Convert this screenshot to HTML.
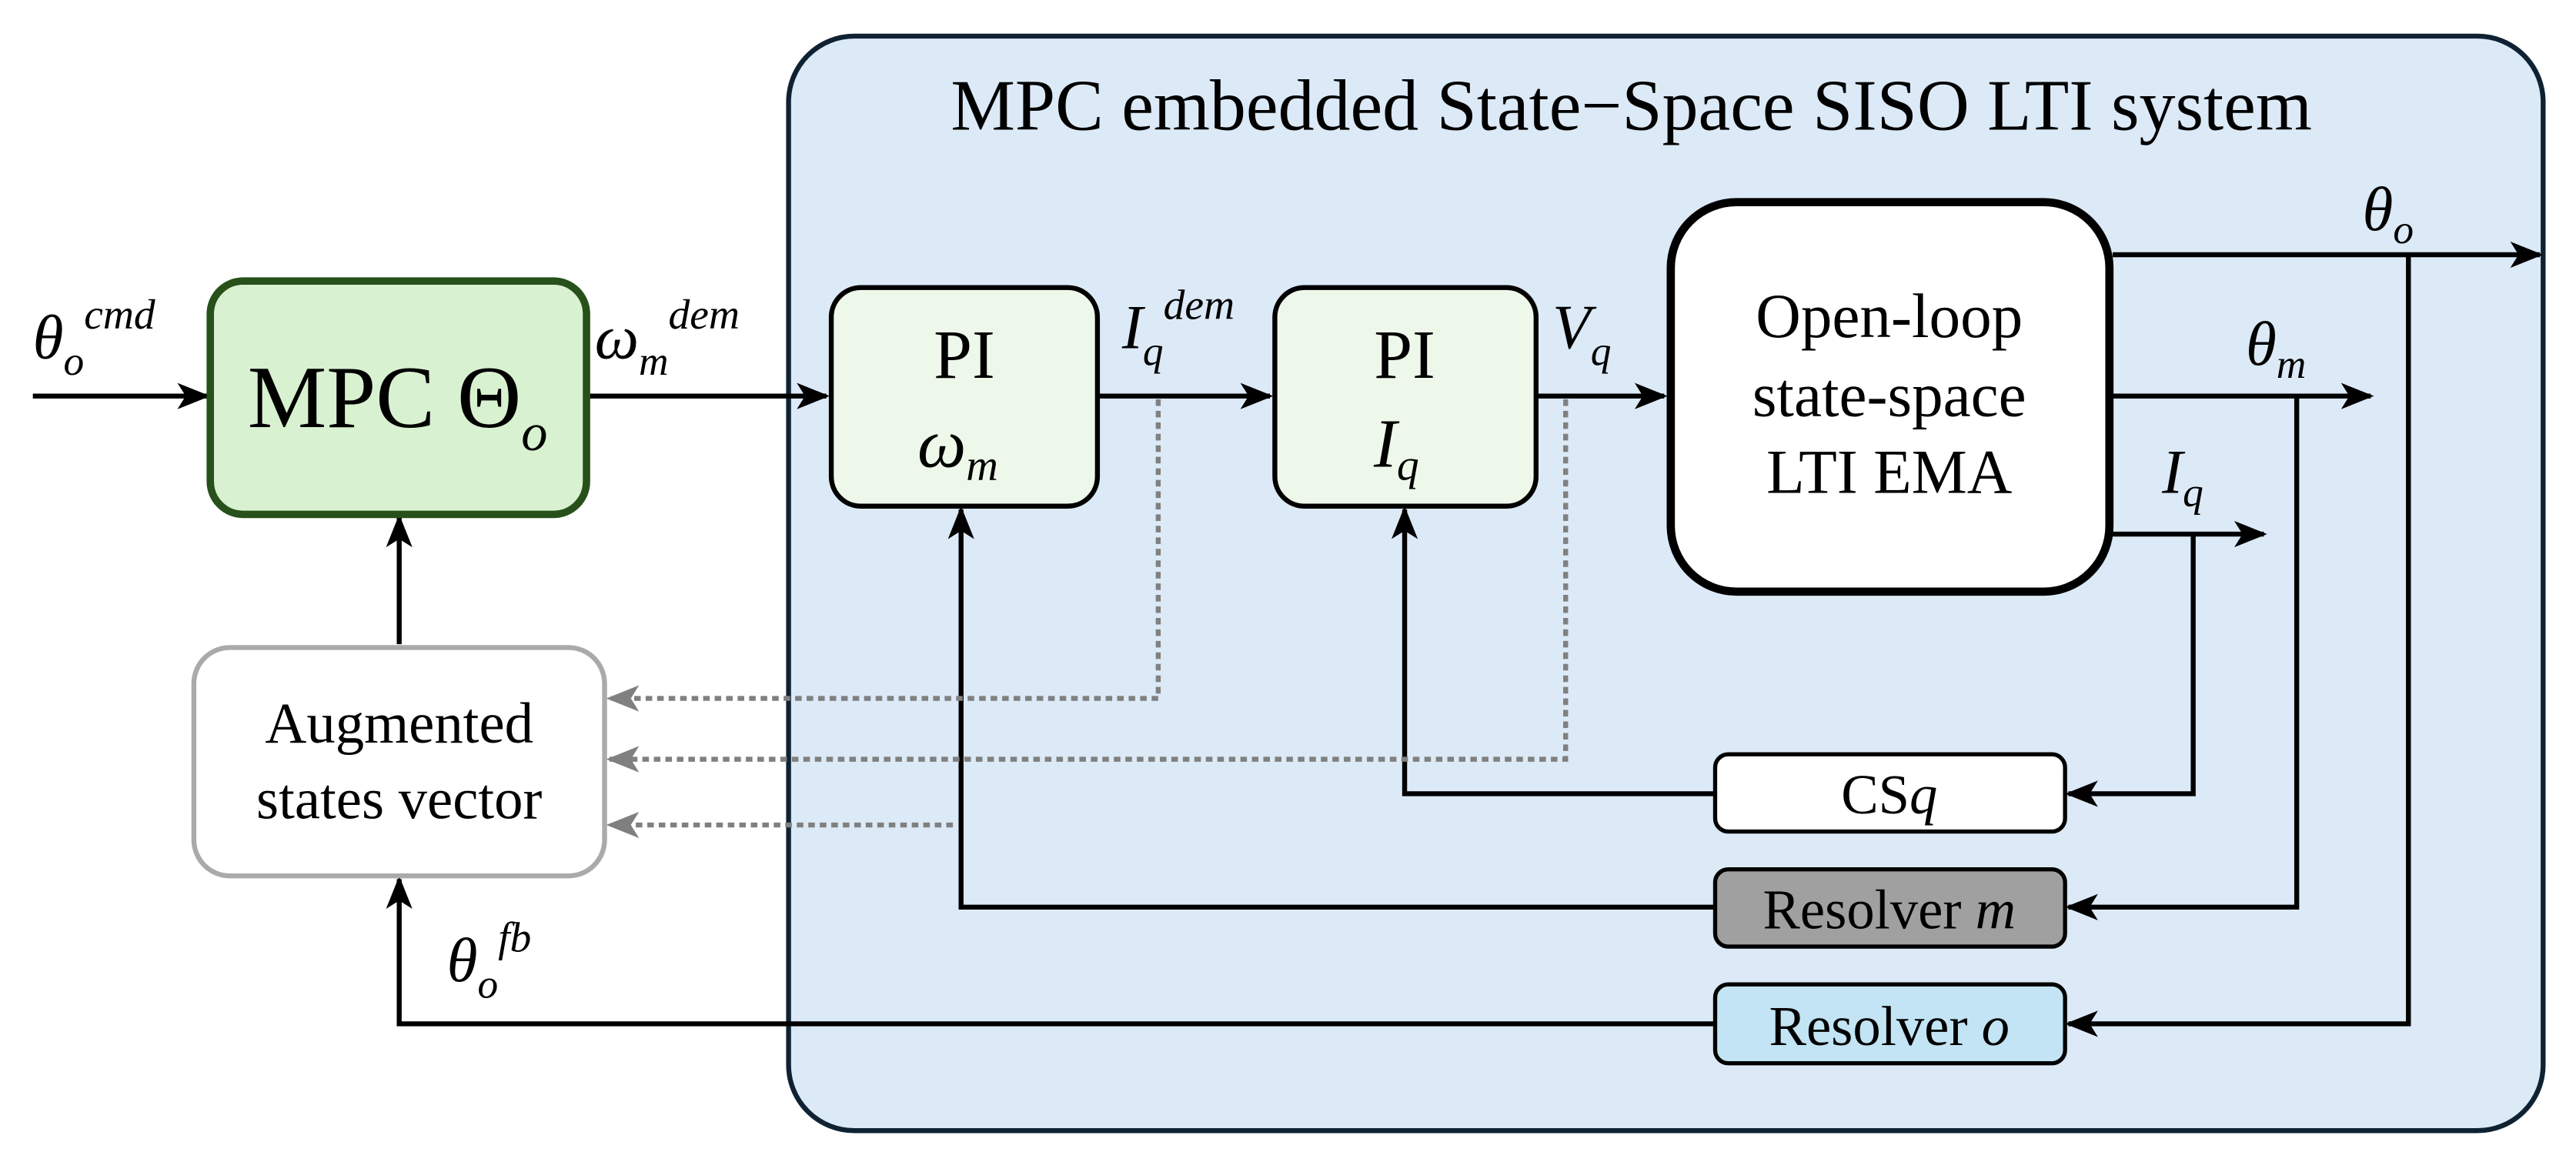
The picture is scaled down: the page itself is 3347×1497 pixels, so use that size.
<!DOCTYPE html>
<html><head><meta charset="utf-8"><style>
html,body{margin:0;padding:0;background:#fff}
svg{display:block}
svg text{font-family:"Times New Roman","Liberation Serif","DejaVu Serif",serif;fill:#000}
.i{font-style:italic}
</style></head><body>
<svg width="3347" height="1497" viewBox="0 0 1568 701" preserveAspectRatio="none" xmlns="http://www.w3.org/2000/svg" font-family="Times New Roman, Liberation Serif, DejaVu Serif, serif">
<defs>
<marker id="a" viewBox="0 0 20 16" refX="18" refY="8" markerWidth="20" markerHeight="16" markerUnits="userSpaceOnUse" orient="auto"><path d="M0,0 L20,8 L0,16 L5,8 Z" fill="#000"/></marker>
<marker id="g" viewBox="0 0 20 16" refX="18" refY="8" markerWidth="20" markerHeight="16" markerUnits="userSpaceOnUse" orient="auto"><path d="M0,0 L20,8 L0,16 L5,8 Z" fill="#808080"/></marker>
</defs>
<rect x="480" y="22" width="1068" height="666" rx="40" fill="#dce9f6" stroke="#0f2233" stroke-width="3"/>
<text x="993" y="79" font-size="44" text-anchor="middle">MPC embedded State−Space SISO LTI system</text>

<g stroke="#000" stroke-width="3" fill="none">
<line x1="20" y1="241" x2="126" y2="241" marker-end="url(#a)"/>
<line x1="358" y1="241" x2="503" y2="241" marker-end="url(#a)"/>
<line x1="669" y1="241" x2="773" y2="241" marker-end="url(#a)"/>
<line x1="936" y1="241" x2="1013" y2="241" marker-end="url(#a)"/>
<line x1="1286" y1="155" x2="1546" y2="155" marker-end="url(#a)"/>
<line x1="1286" y1="241" x2="1443" y2="241" marker-end="url(#a)"/>
<line x1="1286" y1="325" x2="1378" y2="325" marker-end="url(#a)"/>
<polyline points="1335,325 1335,483 1259,483" marker-end="url(#a)"/>
<polyline points="1398,241 1398,552 1259,552" marker-end="url(#a)"/>
<polyline points="1466,155 1466,623 1259,623" marker-end="url(#a)"/>
<polyline points="1043,483 855,483 855,310" marker-end="url(#a)"/>
<polyline points="1043,552 585,552 585,310" marker-end="url(#a)"/>
<polyline points="1043,623 243,623 243,535" marker-end="url(#a)"/>
<line x1="243" y1="392" x2="243" y2="315" marker-end="url(#a)"/>
</g>
<g stroke="#808080" stroke-width="3" fill="none" stroke-dasharray="4,3">
<polyline points="705,243 705,425 371,425" marker-end="url(#g)"/>
<polyline points="953,243 953,462 371,462" marker-end="url(#g)"/>
<line x1="580" y1="502" x2="371" y2="502" marker-end="url(#g)"/>
</g>

<rect x="128" y="171" width="229" height="142" rx="20" fill="#d8f1d0" stroke="#27501a" stroke-width="4.5"/>
<text x="242" y="260" font-size="54" text-anchor="middle">MPC Θ<tspan class="i" font-size="32" dy="14">o</tspan></text>

<rect x="506" y="175" width="162" height="133" rx="18" fill="#eef8ea" stroke="#000" stroke-width="3"/>
<text x="587" y="230" font-size="42" text-anchor="middle">PI</text>
<text x="583" y="284" font-size="42" text-anchor="middle" class="i">ω<tspan font-size="27" dy="8">m</tspan></text>

<rect x="776" y="175" width="159" height="133" rx="18" fill="#eef8ea" stroke="#000" stroke-width="3"/>
<text x="855" y="230" font-size="42" text-anchor="middle">PI</text>
<text x="850" y="284" font-size="42" text-anchor="middle" class="i">I<tspan font-size="27" dy="8">q</tspan></text>

<rect x="1017" y="123" width="267" height="237" rx="40" fill="#fff" stroke="#000" stroke-width="5"/>
<text x="1150" y="205" font-size="38" text-anchor="middle">Open-loop</text>
<text x="1150" y="253" font-size="38" text-anchor="middle">state-space</text>
<text x="1150" y="300" font-size="38" text-anchor="middle">LTI EMA</text>

<rect x="118" y="394" width="250" height="139" rx="22" fill="#fff" stroke="#aaa" stroke-width="3"/>
<text x="243" y="452" font-size="35" text-anchor="middle">Augmented</text>
<text x="243" y="498" font-size="35" text-anchor="middle">states vector</text>

<rect x="1044" y="459" width="213" height="47" rx="8" fill="#fff" stroke="#000" stroke-width="2.5"/>
<text x="1150" y="495" font-size="34" text-anchor="middle">CS<tspan class="i">q</tspan></text>
<rect x="1044" y="529" width="213" height="47" rx="8" fill="#a0a0a0" stroke="#000" stroke-width="2.5"/>
<text x="1150" y="565" font-size="34" text-anchor="middle">Resolver <tspan class="i">m</tspan></text>
<rect x="1044" y="599" width="213" height="48" rx="8" fill="#c2e4f4" stroke="#000" stroke-width="2.5"/>
<text x="1150" y="636" font-size="34" text-anchor="middle">Resolver <tspan class="i">o</tspan></text>

<text x="20" y="218" font-size="38" class="i">θ<tspan font-size="25" dy="10">o</tspan><tspan font-size="26" dy="-28">cmd</tspan></text>
<text x="362" y="218" font-size="38" class="i">ω<tspan font-size="25" dy="10">m</tspan><tspan font-size="26" dy="-28">dem</tspan></text>
<text x="683" y="212" font-size="38" class="i">I<tspan font-size="25" dy="10">q</tspan><tspan font-size="26" dy="-28">dem</tspan></text>
<text x="945" y="212" font-size="38" class="i">V<tspan font-size="25" dy="10">q</tspan></text>
<text x="1438" y="140" font-size="38" class="i">θ<tspan font-size="25" dy="8">o</tspan></text>
<text x="1367" y="222" font-size="38" class="i">θ<tspan font-size="25" dy="8">m</tspan></text>
<text x="1316" y="300" font-size="38" class="i">I<tspan font-size="25" dy="8">q</tspan></text>
<text x="272" y="597" font-size="38" class="i">θ<tspan font-size="25" dy="10">o</tspan><tspan font-size="26" dy="-28">fb</tspan></text>
</svg>
</body></html>
